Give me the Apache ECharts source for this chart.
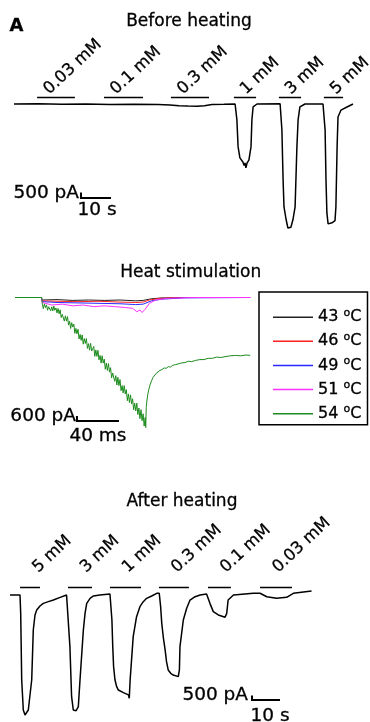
<!DOCTYPE html>
<html>
<head>
<meta charset="UTF-8">
<title>Currents before and after heating</title>
<script src="https://cdn.jsdelivr.net/npm/echarts@6/dist/echarts.min.js"></script>
<style>
  html, body { margin: 0; padding: 0; background: #fff; }
  #main { width: 370px; height: 722px; }
</style>
</head>
<body>
<div id="main"></div>
<script>
// ---------- data ----------
// Before heating: [time (s), current (nA)]
var beforeTrace = [
  [0, 0], [8, 0.02], [16, -0.03], [24, 0], [32, -0.04], [40, -0.02], [48, -0.05], [52, -0.08],
  [55, -0.15], [58, -0.18], [61, -0.2], [63.5, -0.15], [66, -0.05], [70, -0.03], [73.7, 0],
  [74, -0.09], [74.3, -1.45], [74.7, -3.9], [75.3, -4.9], [76.3, -5.27], [76.7, -5.6], [77, -5.36],
  [77.3, -5.8], [77.7, -5.36], [78.3, -5.1], [79, -3.9], [79.3, -1.45], [79.7, -0.27], [81, 0], [88.7, 0.02],
  [89, 0], [89.3, -2.36], [89.7, -6.9], [90, -9.36], [90.7, -10.5], [91.3, -11.27], [92.3, -11.2],
  [93, -10.5], [93.7, -9.36], [94.3, -3.9], [94.7, -1.45], [95.3, -0.27], [97, 0], [103, 0],
  [103.3, 0], [103.7, -2.36], [104, -6.9], [104.3, -9.9], [104.7, -10.9], [106, -10.8], [107, -10.6],
  [107.3, -9.36], [107.7, -3.9], [108, -1.18], [109, -0.55], [111, -0.27], [113, 0]
];
var beforeDoses = ['0.03 mM', '0.1 mM', '0.3 mM', '1 mM', '3 mM', '5 mM'];
var beforeStart = [7.7, 30, 52.3, 73.3, 88.3, 103.3];
var beforeEnd = [20.3, 43, 65, 80.7, 95.7, 109.7];

// Heat stimulation: [time (ms), current (nA)]
var heatNames = ['43 °C', '46 °C', '49 °C', '51 °C', '54 °C'];
var heat43 = [[0, 0], [25, 0], [26, -0.3], [40, -0.25], [55, -0.35], [70, -0.3], [85, -0.35], [100, -0.3],
  [115, -0.4], [122, -0.35], [130, -0.15], [140, -0.05], [160, 0], [224, 0]];
var heat46 = [[0, 0], [25, 0], [26, -0.4], [40, -0.45], [60, -0.5], [80, -0.45], [100, -0.55], [115, -0.6],
  [122, -0.55], [128, -0.3], [138, -0.1], [160, 0], [224, 0]];
var heat49 = [[0, 0], [25, 0], [26, -0.5], [40, -0.6], [60, -0.65], [80, -0.7], [100, -0.75], [115, -0.85],
  [122, -0.8], [130, -0.4], [140, -0.2], [160, -0.05], [224, 0]];
var heat51 = [[0, 0], [25, 0], [26, -0.6], [35, -0.9], [45, -0.8], [55, -1.0], [65, -0.9], [75, -1.1],
  [85, -1.0], [95, -1.1], [105, -1.2], [112, -1.3], [116, -1.7], [119, -1.5], [121, -1.8], [124, -1.4],
  [128, -0.7], [134, -0.3], [145, -0.1], [170, 0], [224, 0]];
var heat54 = [[0, 0], [25.5, 0],
  [26, -0.8], [27, -1.34], [28, -0.77], [29, -1.21], [30, -0.89], [31, -1.53], [32, -1.11], [33, -0.95],
  [34, -1.59], [35, -1.12], [36, -1.61], [37, -1.04], [38, -1.53], [39, -1.26], [40, -1.85], [41, -1.33],
  [42, -1.95], [43, -1.48], [44, -2.4], [45, -2.03], [46, -1.85], [47, -2.83], [48, -2.2], [49, -2.83],
  [50, -2.3], [51, -3.31], [52, -2.86], [53, -3.72], [54, -3.03], [55, -3.54], [56, -3.19], [57, -4.3],
  [58, -3.71], [59, -4.36], [60, -3.82], [61, -4.97], [62, -4.43], [63, -5.14], [64, -4.49], [65, -5.6],
  [66, -4.93], [67, -5.51], [68, -4.93], [69, -6.11], [70, -5.54], [71, -6.32], [72, -5.5], [73, -6.42],
  [74, -6.15], [75, -5.88], [76, -7.06], [77, -6.29], [78, -7.07], [79, -6.34], [80, -7.47], [81, -6.95],
  [82, -7.87], [83, -6.99], [84, -7.87], [85, -7.39], [86, -8.61], [87, -7.88], [88, -8.75], [89, -7.93],
  [90, -8.95], [91, -8.42], [92, -9.64], [93, -9.06], [94, -8.83], [95, -10.06], [96, -9.38], [97, -10.5],
  [98, -9.58], [99, -10.57], [100, -9.85], [101, -11.18], [102, -10.57], [103, -11.45], [104, -10.58],
  [105, -11.57], [106, -11.05], [107, -12.38], [108, -11.57], [109, -12.6], [110, -11.68], [111, -12.77],
  [112, -12.15], [113, -13.47], [114, -12.69], [115, -13.61], [116, -12.68], [117, -14.05], [118, -13.27],
  [119, -14.54], [120, -13.46], [121, -14.78], [122, -13.95], [123, -15.42], [124, -14.4], [124.5, -15.6],
  [125, -13.2], [125.7, -12.3], [126.5, -11.6], [127.5, -11.0], [128.6, -10.5], [130, -10.0], [131.4, -9.6],
  [133, -9.4], [134.5, -9.1], [136, -9.0], [138, -8.75], [140, -8.65], [142, -8.45], [144, -8.5], [146, -8.3],
  [148, -8.35], [150, -8.15], [153, -8.05], [156, -7.95], [159, -7.85], [162, -7.8], [165, -7.65],
  [168, -7.7], [172, -7.55], [176, -7.45], [180, -7.45], [184, -7.3], [188, -7.3], [192, -7.15],
  [196, -7.2], [200, -7.1], [205, -7.0], [210, -6.95], [215, -7.0], [220, -6.9], [224, -6.95]];

// After heating: [time (s), current (nA)]
var afterTrace = [
  [0, 0], [3.57, 0], [3.82, -2.04], [4.18, -9.44], [4.75, -12.78], [5.36, -13.33], [6.54, -12.78],
  [7.75, -9.44], [8.32, -3.89], [8.93, -2.22], [9.54, -1.67], [10.7, -1.22], [11.9, -0.93], [13.7, -0.74],
  [15.5, -0.56], [17.9, -0.26], [20.2, 0],
  [20.8, 0], [21.4, -5.74], [22.0, -11.3], [22.6, -12.78], [23.6, -12.86], [24.4, -12.4], [25.0, -9.44],
  [26.2, -3.89], [26.8, -2.04], [27.4, -0.93], [28.6, -0.37], [29.8, -0.11], [32.1, 0], [35.7, 0.11],
  [36.1, 0], [36.4, -2.78], [36.7, -5.74], [37.0, -7.96], [37.5, -9.44], [38.1, -10.19], [38.7, -10.56],
  [40.5, -10.85], [42.3, -11.1], [42.6, -11.48], [42.9, -9.44], [44.0, -4.63], [45.2, -2.41], [46.4, -1.3],
  [47.6, -0.74], [48.8, -0.37], [50.6, -0.11], [52.4, 0.19],
  [53.3, 0.19], [53.8, -1.3], [54.2, -3.15], [54.8, -4.81], [55.4, -6.1], [55.9, -7.41], [56.5, -8.33],
  [57.4, -8.7], [58.3, -8.89], [60.1, -9.07], [60.5, -8.33], [60.7, -5.74], [61.9, -2.78], [63.1, -1.48],
  [64.3, -0.56], [66.1, -0.19], [67.9, 0], [70.2, 0.11],
  [70.8, 0.11], [71.4, -0.93], [72.6, -1.85], [74.4, -2.22], [76.8, -2.48], [77.4, -2.04], [77.9, -0.56],
  [79.8, 0], [86.9, 0.19],
  [89.3, 0.19], [91.7, -0.19], [95.2, -0.37], [98.8, -0.26], [101.2, 0.19], [107.7, 0.44]
];
var afterDoses = ['5 mM', '3 mM', '1 mM', '0.3 mM', '0.1 mM', '0.03 mM'];
var afterStart = [3.6, 20.7, 35.7, 53.2, 70.7, 89.3];
var afterEnd = [10.7, 29.3, 46.8, 63.9, 78.9, 100.7];

// ---------- helpers ----------
var FONT = 'DejaVu Sans';
var INK = '#000';

function traceSeries(idx, data, name, color, width) {
  return {
    type: 'line', name: name, xAxisIndex: idx, yAxisIndex: idx,
    data: data, symbol: 'none', showSymbol: false, silent: true,
    lineStyle: { color: color, width: width }, itemStyle: { color: color },
    animation: false
  };
}

// horizontal bars marking the drug application
function barSeries(idx, starts, ends, level) {
  return {
    type: 'lines', coordinateSystem: 'cartesian2d', xAxisIndex: idx, yAxisIndex: idx,
    silent: true, animation: false,
    lineStyle: { color: INK, width: 1.3, opacity: 1 },
    data: starts.map(function (s, i) { return { coords: [[s, level], [ends[i], level]] }; })
  };
}

// rotated dose labels sitting on the start of each bar
function doseLabels(idx, starts, level, names, offset) {
  return {
    type: 'scatter', xAxisIndex: idx, yAxisIndex: idx, silent: true, animation: false,
    symbolSize: 0, itemStyle: { color: INK },
    label: {
      show: true, formatter: '{b}', position: offset, align: 'left', verticalAlign: 'bottom',
      rotate: 43, fontSize: 16.5, fontFamily: FONT, color: INK, opacity: 1,
      textBorderColor: INK, textBorderWidth: 0.3
    },
    data: starts.map(function (s, i) { return { name: names[i], value: [s, level] }; })
  };
}

// L-shaped scale bar plus its two captions
function scaleBar(idx, corner, h, w, yText, xText, yOff, xOff) {
  return [{
    type: 'lines', coordinateSystem: 'cartesian2d', polyline: true, xAxisIndex: idx, yAxisIndex: idx,
    silent: true, animation: false,
    lineStyle: { color: INK, width: 2, opacity: 1 },
    data: [{ coords: [[corner[0], corner[1] + h], corner, [corner[0] + w, corner[1]]] }]
  }, {
    type: 'scatter', xAxisIndex: idx, yAxisIndex: idx, silent: true, animation: false,
    symbolSize: 0, itemStyle: { color: INK },
    data: [
      { name: yText, value: corner, label: { position: yOff, align: 'right' } },
      { name: xText, value: corner, label: { position: xOff, align: 'center' } }
    ],
    label: {
      show: true, formatter: '{b}', verticalAlign: 'middle', fontSize: 18.5, fontFamily: FONT,
      color: INK, opacity: 1, textBorderColor: INK, textBorderWidth: 0.3
    }
  }];
}

function hiddenAxis(idx, min, max) {
  return { gridIndex: idx, type: 'value', min: min, max: max, show: false };
}

function title(text, x, y, font) {
  return {
    type: 'text', x: x, y: y, silent: true,
    style: { text: text, font: font, fill: INK, stroke: INK, lineWidth: 0.3, align: 'center', verticalAlign: 'middle' }
  };
}

var heatColors = ['#222222', '#ff2020', '#2a2aff', '#ff30ff', '#1e8c1e'];
var heatData = [heat43, heat46, heat49, heat51, heat54];

var series = [];
series.push(traceSeries(0, beforeTrace, 'before', INK, 1.5));
series.push(barSeries(0, beforeStart, beforeEnd, 0.57));
series.push(doseLabels(0, beforeStart, 0.57, beforeDoses, [15, 0]));
series = series.concat(scaleBar(0, [22.33, -8.55], 0.5, 10, '500 pA', '10 s', [-2, -5], [16, 12]));

heatData.forEach(function (d, i) {
  series.push(traceSeries(1, d, heatNames[i], heatColors[i], 1));
});
series = series.concat(scaleBar(1, [59, -14.82], 0.6, 40, '600 pA', '40 ms', [-1, -5], [21, 15]));

series.push(traceSeries(2, afterTrace, 'after', INK, 1.5));
series.push(barSeries(2, afterStart, afterEnd, 0.89));
series.push(doseLabels(2, afterStart, 0.89, afterDoses, [21, -11]));
series = series.concat(scaleBar(2, [86.43, -11.67], 0.5, 10, '500 pA', '10 s', [-4, -5], [18, 16]));

var chart = echarts.init(document.getElementById('main'), null, { renderer: 'canvas' });
chart.setOption({
  backgroundColor: '#fff',
  animation: false,
  grid: [
    { left: 14, top: 38, width: 342, height: 198 },
    { left: 15, top: 247.5, width: 252, height: 200 },
    { left: 10, top: 559, width: 308, height: 162 }
  ],
  xAxis: [hiddenAxis(0, 0, 114), hiddenAxis(1, 0, 240), hiddenAxis(2, 0, 110)],
  yAxis: [hiddenAxis(0, -12, 6), hiddenAxis(1, -18, 6), hiddenAxis(2, -14, 4)],
  legend: {
    data: heatNames, orient: 'vertical', left: 259, top: 292,
    selectedMode: false, icon: 'rect', itemWidth: 40, itemHeight: 1.5, itemGap: 4,
    padding: [15, 6, 1, 14], borderColor: '#000', borderWidth: 1.5,
    formatter: function (n) { return n.replace('°', '{sup|o}'); },
    textStyle: {
      fontSize: 16, fontFamily: FONT, color: INK, lineHeight: 20,
      textBorderColor: INK, textBorderWidth: 0.3,
      rich: { sup: { fontSize: 11, fontFamily: FONT, color: INK, lineHeight: 20, verticalAlign: 'top' } }
    }
  },
  graphic: [
    title('A', 16.5, 26, 'bold 18px "DejaVu Sans"'),
    title('Before heating', 189, 22, '17px "DejaVu Sans"'),
    title('Heat stimulation', 190.7, 272.5, '17px "DejaVu Sans"'),
    title('After heating', 182, 502, '17px "DejaVu Sans"')
  ],
  series: series
});
</script>
</body>
</html>
